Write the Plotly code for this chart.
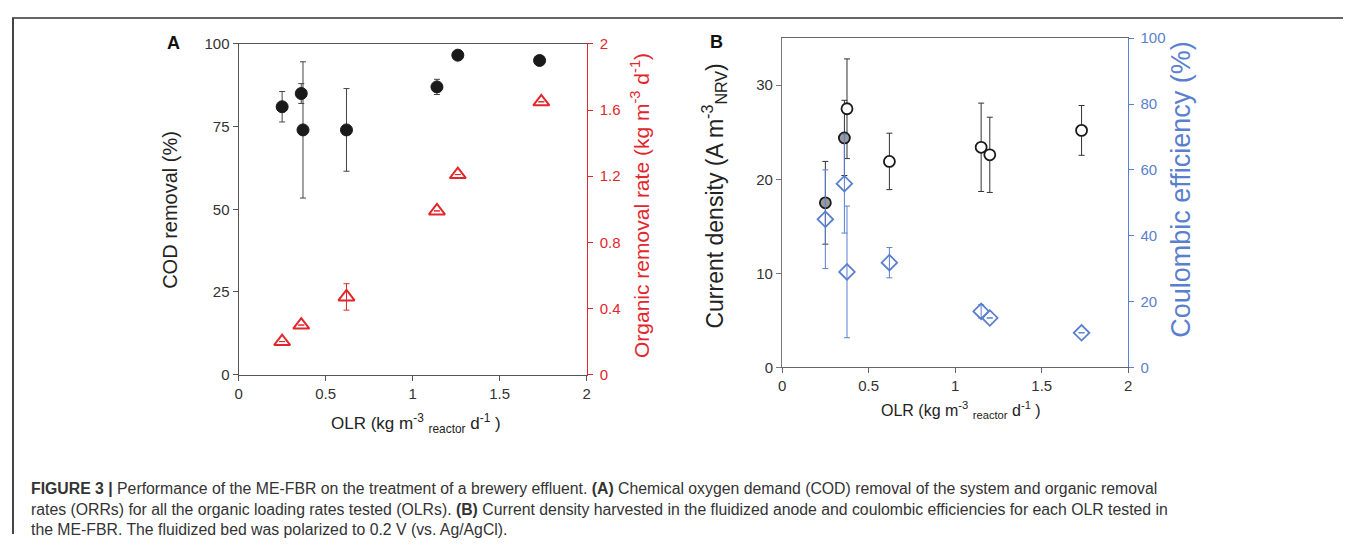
import plotly.graph_objects as go

# Page body has an 8px margin; size the figure so the page fits the window exactly
OFF = 8
W, H = 1355 - 2 * OFF, 550 - 2 * OFF
# empirical vertical calibration of the rendered page (target pixel -> layout pixel)
Y_A, Y_S = 8.3, 0.969

# ---------------- Data ----------------
# Panel A
olr_cod = [0.25, 0.36, 0.37, 0.62, 1.14, 1.26, 1.73]
cod_removal = [81, 85, 74, 74, 87, 96.6, 95]
cod_err = [4.6, 3.0, 20.6, 12.5, 2.3, 0, 0]

olr_orr = [0.25, 0.36, 0.62, 1.14, 1.26, 1.74]
orr = [0.20, 0.30, 0.47, 0.99, 1.21, 1.65]
orr_err = [0, 0, 0.08, 0, 0, 0]

# Panel B
olr_b = [0.25, 0.36, 0.375, 0.62, 1.15, 1.2, 1.73]
current_density = [17.5, 24.4, 27.5, 21.9, 23.4, 22.6, 25.2]
cd_err = [4.4, 4.0, 5.3, 3.0, 4.7, 4.0, 2.65]
cd_fill = ["#9a9a9a", "#9a9a9a", "white", "white", "white", "white", "white"]

coulombic_eff = [45.0, 55.8, 29.0, 31.8, 17.0, 15.0, 10.5]
ce_err = [15.0, 15.0, 20.0, 4.6, 2.0, 0, 0]

x_ticks = [0, 0.5, 1, 1.5, 2]
x_ticklabels = ["0", "0.5", "1", "1.5", "2"]
codA_ticks = [0, 25, 50, 75, 100]
orr_ticks = [0, 0.4, 0.8, 1.2, 1.6, 2]
orr_ticklabels = ["0", "0.4", "0.8", "1.2", "1.6", "2"]
cd_ticks = [0, 10, 20, 30]
ce_ticks = [0, 20, 40, 60, 80, 100]

RED = "#e3262b"
BLUE = "#5a7fcf"
DARK = "#333333"
FONT = "Liberation Sans, Arial, sans-serif"


def px_x(p):
    return (p - OFF) / W


def px_y(p):
    q = (p - Y_A) / Y_S - OFF
    q = max(q, 1.0)
    return 1 - q / H


fig = go.Figure()

# Panel A – COD removal
fig.add_trace(go.Scatter(
    x=olr_cod, y=cod_removal, mode="markers", xaxis="x", yaxis="y",
    marker=dict(symbol="circle", size=12, color="#1a1a1a", line=dict(color="#1a1a1a", width=1)),
    error_y=dict(type="data", array=cod_err, visible=True, color="#444", thickness=1, width=3),
    showlegend=False))

# Panel A – ORR
fig.add_trace(go.Scatter(
    x=olr_orr, y=orr, mode="markers", xaxis="x", yaxis="y2",
    marker=dict(symbol="triangle-up-open", size=14, color=RED, line=dict(color=RED, width=2)),
    error_y=dict(type="data", array=orr_err, visible=True, color=RED, thickness=1, width=3),
    showlegend=False))

# Panel B – Coulombic efficiency
fig.add_trace(go.Scatter(
    x=olr_b, y=coulombic_eff, mode="markers", xaxis="x2", yaxis="y4",
    marker=dict(symbol="diamond-open", size=12, color=BLUE, line=dict(color=BLUE, width=1.8)),
    error_y=dict(type="data", array=ce_err, visible=True, color=BLUE, thickness=1, width=3),
    showlegend=False))

# Panel B – Current density
fig.add_trace(go.Scatter(
    x=olr_b, y=current_density, mode="markers", xaxis="x2", yaxis="y3",
    marker=dict(symbol="circle", size=11, color=cd_fill, line=dict(color="#1a1a1a", width=1.8)),
    error_y=dict(type="data", array=cd_err, visible=True, color="#333", thickness=1, width=3),
    showlegend=False))

tickfont = dict(family=FONT, size=15, color=DARK)

common_x = dict(range=[0, 2], tickvals=x_ticks, ticktext=x_ticklabels, showgrid=False,
                zeroline=False, showline=True, linewidth=1.2, ticks="outside", ticklen=5,
                tickfont=tickfont, mirror=True)

fig.update_layout(
    width=W, height=H,
    margin=dict(l=0, r=0, t=0, b=0),
    paper_bgcolor="white", plot_bgcolor="white",
    font=dict(family=FONT, color=DARK),
    xaxis=dict(domain=[px_x(236), px_x(586)], anchor="y", linecolor="#555", tickcolor="#555", **common_x),
    yaxis=dict(domain=[px_y(374), px_y(43)], anchor="x", range=[0, 100], tickvals=codA_ticks,
               showgrid=False, zeroline=False, showline=True, linecolor="#555", linewidth=1.2,
               ticks="outside", ticklen=5, tickcolor="#555", tickfont=tickfont),
    yaxis2=dict(overlaying="y", anchor="x", side="right", range=[0, 2], tickvals=orr_ticks,
                ticktext=orr_ticklabels, showgrid=False, zeroline=False, showline=True,
                linecolor=RED, linewidth=1.4, ticks="outside", ticklen=5, tickcolor=RED,
                ticklabelstandoff=4,
                tickfont=dict(family=FONT, size=15, color=RED)),
    xaxis2=dict(domain=[px_x(782.7), px_x(1131)], anchor="y3", linecolor="#666", tickcolor="#666", **common_x),
    yaxis3=dict(domain=[px_y(366.7), px_y(37.3)], anchor="x2", range=[0, 35], tickvals=cd_ticks,
                showgrid=False, zeroline=False, showline=True, linecolor="#777", linewidth=1.2,
                ticks="outside", ticklen=5, tickcolor="#777", tickfont=tickfont),
    yaxis4=dict(overlaying="y3", anchor="x2", side="right", range=[0, 100], tickvals=ce_ticks,
                showgrid=False, zeroline=False, showline=True, linecolor=BLUE, linewidth=1.4,
                ticks="outside", ticklen=5, tickcolor=BLUE, ticklabelstandoff=3,
                tickfont=dict(family=FONT, size=15, color=BLUE)),
)

ann = []


def add_text(text, x, y, size, color=DARK, angle=0, xanchor="center", yanchor="middle"):
    ann.append(dict(text=text, x=px_x(x), y=px_y(y), xref="paper", yref="paper",
                    showarrow=False, textangle=angle, xanchor=xanchor, yanchor=yanchor,
                    font=dict(family=FONT, size=size, color=color)))


# Panel labels
add_text("<b>A</b>", 170, 42, 18, "#111")
add_text("<b>B</b>", 717, 41, 18, "#111")

# Axis titles – panel A
add_text("COD removal (%)", 167, 209, 20, "#222", angle=-90)
add_text("Organic removal rate (kg m<sup>-3</sup> d<sup>-1</sup>)", 640, 205, 21, RED, angle=-90)
add_text("OLR (kg m<sup>-3</sup> <sub>reactor</sub> d<sup>-1</sup> )", 414, 423, 17, "#222")

# Axis titles – panel B
add_text("Current density (A m<sup>-3</sup><sub>NRV</sub>)", 714, 195, 23, "#222", angle=-90)
add_text("Coulombic efficiency (%)", 1184, 188, 27, BLUE, angle=-90)
add_text("OLR (kg m<sup>-3</sup> <sub>reactor</sub> d<sup>-1</sup> )", 963, 409, 16, "#222")

# Caption
cap_lines = [
    "<b>FIGURE 3 |</b> Performance of the ME-FBR on the treatment of a brewery effluent. "
    "<b>(A)</b> Chemical oxygen demand (COD) removal of the system and organic removal",
    "rates (ORRs) for all the organic loading rates tested (OLRs). <b>(B)</b> Current density "
    "harvested in the fluidized anode and coulombic efficiencies for each OLR tested in",
    "the ME-FBR. The fluidized bed was polarized to 0.2 V (vs. Ag/AgCl).",
]
for i, line in enumerate(cap_lines):
    add_text(line, 25, 488 + 20.5 * i, 15.8, "#333", xanchor="left")

fig.update_layout(annotations=ann)

# Frame lines
fig.add_shape(type="line", xref="paper", yref="paper", x0=px_x(8), x1=1, y0=px_y(10), y1=px_y(10),
              line=dict(color="#666", width=2))
fig.add_shape(type="line", xref="paper", yref="paper", x0=px_x(9), x1=px_x(9), y0=px_y(10), y1=0,
              line=dict(color="#444", width=2))

fig.write_html("out.html")
